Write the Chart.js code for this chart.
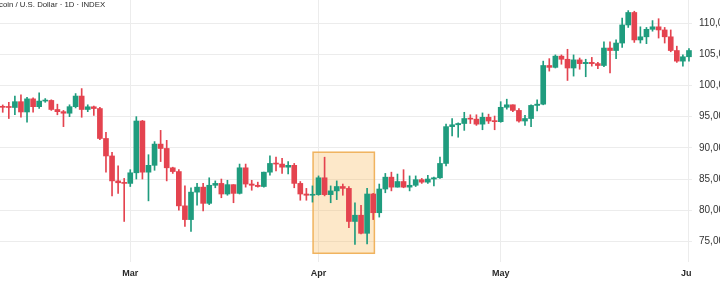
<!DOCTYPE html>
<html>
<head>
<meta charset="utf-8">
<script src="https://cdn.jsdelivr.net/npm/chart.js@4"></script>
<style>
  html, body { margin: 0; padding: 0; background: #fff; overflow: hidden; }
  #wrap { position: relative; width: 720px; height: 285px; }
  #title {
    position: absolute; top: 0px; left: -1px;
    font: 7.8px "Liberation Sans", Arial, sans-serif; color: #2a2a2a;
    white-space: nowrap; line-height: 10px;
  }
</style>
</head>
<body>
<div id="wrap">
  <canvas id="chart" width="720" height="285"></canvas>
  <div id="title">coin / U.S. Dollar · 1D · INDEX</div>
</div>
<script>
// daily candles, Feb 8 .. Jun 1
const dates = [
  'Feb 8','Feb 9','Feb 10','Feb 11','Feb 12','Feb 13','Feb 14','Feb 15','Feb 16','Feb 17','Feb 18','Feb 19','Feb 20','Feb 21','Feb 22','Feb 23','Feb 24','Feb 25','Feb 26','Feb 27','Feb 28',
  'Mar 1','Mar 2','Mar 3','Mar 4','Mar 5','Mar 6','Mar 7','Mar 8','Mar 9','Mar 10','Mar 11','Mar 12','Mar 13','Mar 14','Mar 15','Mar 16','Mar 17','Mar 18','Mar 19','Mar 20','Mar 21','Mar 22','Mar 23','Mar 24','Mar 25','Mar 26','Mar 27','Mar 28','Mar 29','Mar 30','Mar 31',
  'Apr 1','Apr 2','Apr 3','Apr 4','Apr 5','Apr 6','Apr 7','Apr 8','Apr 9','Apr 10','Apr 11','Apr 12','Apr 13','Apr 14','Apr 15','Apr 16','Apr 17','Apr 18','Apr 19','Apr 20','Apr 21','Apr 22','Apr 23','Apr 24','Apr 25','Apr 26','Apr 27','Apr 28','Apr 29','Apr 30',
  'May 1','May 2','May 3','May 4','May 5','May 6','May 7','May 8','May 9','May 10','May 11','May 12','May 13','May 14','May 15','May 16','May 17','May 18','May 19','May 20','May 21','May 22','May 23','May 24','May 25','May 26','May 27','May 28','May 29','May 30','May 31',
  'Jun 1'
];
const opens = [
  96540,96500,96470,97400,95750,97850,96600,97500,97600,96150,95800,95550,96600,98300,96150,96580,96300,91500,88700,84700,84400,
  84300,86000,94300,86100,87200,90600,89900,86800,86200,80700,78500,82900,83700,81100,84000,84300,82600,84100,82700,86800,84200,84000,83800,86100,87500,87400,86900,87200,84300,82600,82400,
  82500,85200,82500,83100,83800,83500,78200,79200,76300,82600,79600,83400,85300,83700,84600,83700,84000,84900,84500,85000,85200,87500,93400,93700,93900,94700,94600,93800,94900,94300,
  94200,96500,96900,96000,94300,94700,96800,97000,103200,102900,104700,104200,102800,104100,103500,103700,103500,103200,106000,105600,106800,109700,111700,107300,107800,109000,109400,108900,107800,105600,103900,
  104600
];
const highs = [
  96880,97300,98300,98500,98100,98000,98800,97900,97700,97000,96000,96900,98700,99500,96900,96700,96500,92500,89300,87100,85100,
  86500,95000,94400,88900,91000,92800,91200,86900,86500,83900,83600,84300,84300,85200,84700,85000,84800,84100,87400,87400,84800,84500,86100,88700,88500,88300,87800,87500,84600,83500,83900,
  85500,88500,83900,84700,84200,83800,81200,80800,83500,82700,84200,85900,86100,85800,86500,85500,85500,85100,85600,85300,88500,93800,94700,94000,95700,95300,95300,95600,95400,95100,
  97400,97800,96900,96300,95200,96900,97700,103900,104300,104900,104900,105800,104900,104400,104200,104500,103700,107000,107000,107300,110800,112000,111900,109400,109300,110400,110700,109300,108900,106300,104900,
  105900
];
const lows = [
  95700,94700,95300,94900,94100,95700,96300,97300,96000,95300,93400,95000,96400,94900,95800,95200,91300,86100,82300,82700,78200,
  83800,85000,85000,81500,86400,87800,84700,85900,80000,77400,76600,80800,79900,80900,83600,82000,82400,81200,82600,83700,83200,83700,83700,85600,86300,85900,85800,83600,81600,81600,81300,
  82400,82300,81200,81700,82400,77200,74500,76200,74600,78500,78900,82800,83100,83700,83600,83100,83800,84300,84300,83900,85100,87100,91900,91700,92800,93900,93600,92900,93900,92900,
  94100,96200,95800,94100,93600,93400,95900,96900,102300,102800,103400,100800,101500,102600,101400,103100,102700,103000,102000,104300,106100,109300,106900,106800,106700,108700,107600,106800,105400,103700,103100,
  103900
];
const closes = [
  96500,96470,97400,95750,97850,96600,97500,97600,96150,95800,95550,96600,98300,96150,96580,96300,91500,88700,84700,84400,84300,
  86000,94300,86100,87200,90600,89900,86800,86200,80700,78500,82900,83700,81100,84000,84300,82600,84100,82700,86800,84200,84000,83800,86100,87500,87400,86900,87200,84300,82600,82400,82500,
  85200,82500,83100,83800,83500,78200,79200,76300,82600,79600,83400,85300,83700,84600,83700,84000,84900,84500,85000,85200,87500,93400,93700,93900,94700,94600,93800,94900,94300,94200,
  96500,96900,96000,94300,94700,96800,97000,103200,102900,104700,104200,102800,104100,103500,103700,103500,103200,106000,105600,106800,109700,111700,107300,107800,109000,109400,108900,107800,105600,103900,104600,
  105600
];

// axis ticks: month starts (index into dates) and price levels
const monthTicks = [21, 52, 82, 113];
const monthLabels = ['Mar', 'Apr', 'May', 'Jun'];
const priceTicks = [75000, 80000, 85000, 90000, 95000, 100000, 105000, 110000];

// highlighted zone around early April (day index / price)
const zoneDays = [51.1, 61.2];
const zonePrices = [73100, 89300];

const UP = '#1f9c7e';
const DOWN = '#e4434f';
const colors = dates.map((d, i) => closes[i] >= opens[i] ? UP : DOWN);

const zonePlugin = {
  id: 'zone',
  beforeDatasetsDraw(chart) {
    const { ctx, scales: { x, y } } = chart;
    const x0 = x.getPixelForValue(zoneDays[0]);
    const x1 = x.getPixelForValue(zoneDays[1]);
    const y0 = y.getPixelForValue(zonePrices[1]);
    const y1 = y.getPixelForValue(zonePrices[0]);
    ctx.save();
    ctx.fillStyle = 'rgba(249, 190, 100, 0.35)';
    ctx.fillRect(x0, y0, x1 - x0, y1 - y0);
    ctx.strokeStyle = 'rgba(238, 172, 80, 0.9)';
    ctx.lineWidth = 1.5;
    ctx.strokeRect(x0, y0, x1 - x0, y1 - y0);
    ctx.restore();
  },
  afterDraw(chart) {
    // price scale panel hides the end of the last month label
    const { ctx, chartArea } = chart;
    ctx.save();
    ctx.fillStyle = '#fff';
    ctx.fillRect(chartArea.right, chartArea.bottom + 1, chart.width - chartArea.right, chart.height - chartArea.bottom);
    ctx.restore();
  }
};

new Chart(document.getElementById('chart'), {
  type: 'bar',
  data: {
    datasets: [
      {
        label: 'wick',
        data: dates.map((d, i) => ({ x: i, y: [lows[i], highs[i]] })),
        backgroundColor: colors,
        barThickness: 1,
        grouped: false,
        order: 2
      },
      {
        label: 'body',
        data: dates.map((d, i) => ({ x: i, y: [opens[i], closes[i]] })),
        backgroundColor: colors,
        barThickness: 5,
        minBarLength: 1,
        grouped: false,
        order: 1
      }
    ]
  },
  options: {
    responsive: false,
    animation: false,
    devicePixelRatio: 1,
    layout: { padding: 0 },
    plugins: {
      legend: { display: false },
      tooltip: { enabled: false }
    },
    scales: {
      x: {
        type: 'linear',
        min: -0.45,
        max: 113.5,
        offset: false,
        afterBuildTicks: (scale) => { scale.ticks = monthTicks.map(v => ({ value: v })); },
        afterFit: (scale) => { scale.height = 23; scale.paddingLeft = 0; scale.paddingRight = 0; },
        grid: { color: '#ececec', lineWidth: 1, drawTicks: false, offset: false },
        border: { display: false },
        ticks: {
          padding: 6,
          maxRotation: 0,
          autoSkip: false,
          color: '#2a2a2a',
          font: { family: 'Liberation Sans, Arial, sans-serif', size: 9, weight: 'bold' },
          callback: (v) => monthLabels[monthTicks.indexOf(v)] || ''
        }
      },
      y: {
        position: 'right',
        min: 71700,
        max: 113700,
        afterBuildTicks: (scale) => { scale.ticks = priceTicks.map(v => ({ value: v })); },
        afterFit: (scale) => { scale.width = 28; scale.paddingTop = 0; scale.paddingBottom = 0; },
        grid: { color: '#ececec', lineWidth: 1, drawTicks: false },
        border: { display: false },
        ticks: {
          padding: 7,
          color: '#333',
          font: { family: 'Liberation Sans, Arial, sans-serif', size: 10 },
          callback: (v) => v.toLocaleString('en-US')
        }
      }
    }
  },
  plugins: [zonePlugin]
});
</script>
</body>
</html>
